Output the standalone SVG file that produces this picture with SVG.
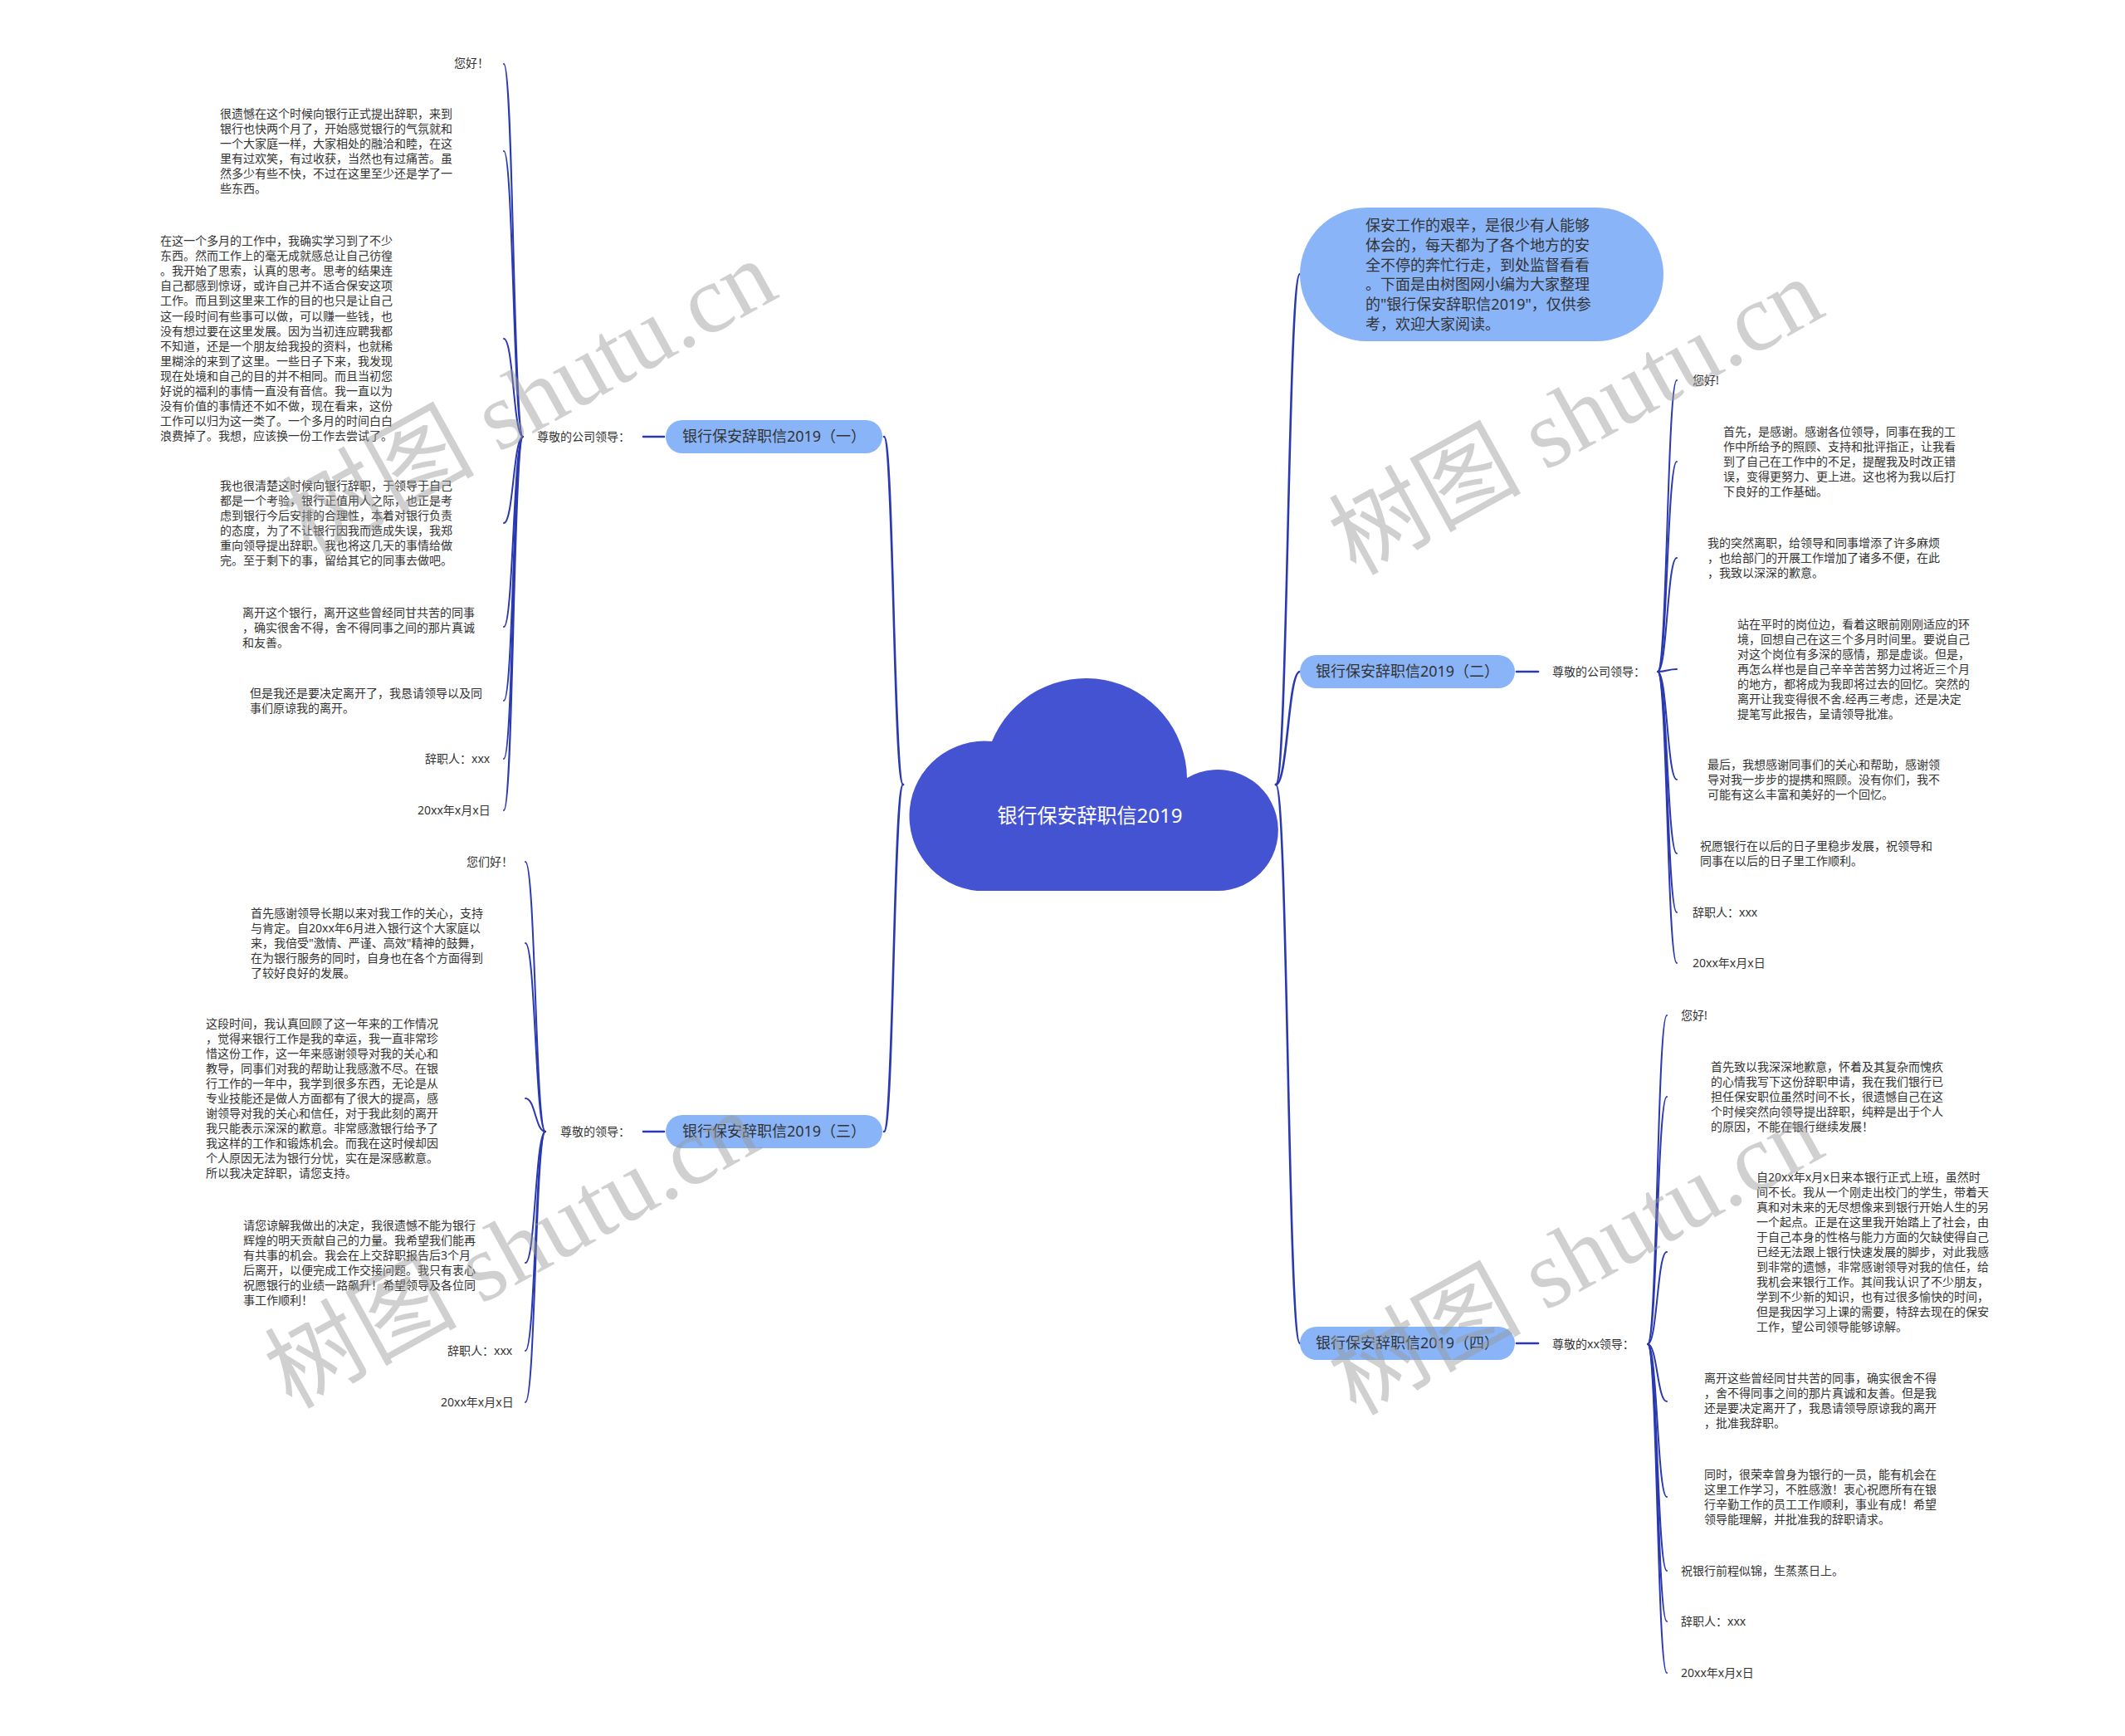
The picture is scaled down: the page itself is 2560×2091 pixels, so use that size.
<svg xmlns="http://www.w3.org/2000/svg" width="2560" height="2091" viewBox="0 0 2560 2091">
<style>
.t{font-family:'Noto Sans','Noto Sans CJK SC',sans-serif;font-size:14px;fill:#333}
.pill{fill:#8ab4f8}
.pt{font-family:'Noto Sans','Noto Sans CJK SC',sans-serif;font-size:18px;fill:#333}
.ln{fill:none;stroke:#2b39b0;stroke-width:2;stroke-linecap:round}
.tr{stroke-width:2.6}
.wm{font-family:'Liberation Serif','Noto Sans CJK SC',serif;font-size:116px;fill:#999;opacity:0.45}
</style>
<rect width="2560" height="2091" fill="#fff"/>

<g id="connectors">
  <!-- trunks from center -->
  <path class="ln tr" d="M1088,945 C1076.5,945 1076.5,526 1065,526"/>
  <path class="ln tr" d="M1088,945 C1076.5,945 1076.5,1363 1065,1363"/>
  <path class="ln tr" d="M1537,945 C1551.5,945 1551.5,330 1566,330"/>
  <path class="ln tr" d="M1537,945 C1551.5,945 1551.5,809 1566,809"/>
  <path class="ln tr" d="M1537,945 C1551.5,945 1551.5,1618 1566,1618"/>
  <!-- pill to label -->
  <path class="ln tr" d="M775,526 H800"/>
  <path class="ln tr" d="M775,1363 H800"/>
  <path class="ln tr" d="M1827,809 H1853"/>
  <path class="ln tr" d="M1827,1618 H1853"/>
  <!-- branch 1 bracket -->
  <path class="ln" d="M630,526 C618.5,526 618.5,77 607,77"/>
  <path class="ln" d="M630,526 C618.5,526 618.5,182 607,182"/>
  <path class="ln" d="M630,526 C618.5,526 618.5,408 607,408"/>
  <path class="ln" d="M630,526 C618.5,526 618.5,630 607,630"/>
  <path class="ln" d="M630,526 C618.5,526 618.5,755 607,755"/>
  <path class="ln" d="M630,526 C618.5,526 618.5,844 607,844"/>
  <path class="ln" d="M630,526 C618.5,526 618.5,914 607,914"/>
  <path class="ln" d="M630,526 C618.5,526 618.5,976 607,976"/>
  <!-- branch 3 bracket -->
  <path class="ln" d="M657,1363 C645,1363 645,1038 633,1038"/>
  <path class="ln" d="M657,1363 C645,1363 645,1136 633,1136"/>
  <path class="ln" d="M657,1363 C645,1363 645,1323 633,1323"/>
  <path class="ln" d="M657,1363 C645,1363 645,1521 633,1521"/>
  <path class="ln" d="M657,1363 C645,1363 645,1627 633,1627"/>
  <path class="ln" d="M657,1363 C645,1363 645,1689 633,1689"/>
  <!-- branch 2 bracket -->
  <path class="ln" d="M1997,809 C2008.5,809 2008.5,458 2020,458"/>
  <path class="ln" d="M1997,809 C2008.5,809 2008.5,556 2020,556"/>
  <path class="ln" d="M1997,809 C2008.5,809 2008.5,672 2020,672"/>
  <path class="ln" d="M1997,809 C2008.5,809 2008.5,806 2020,806"/>
  <path class="ln" d="M1997,809 C2008.5,809 2008.5,939 2020,939"/>
  <path class="ln" d="M1997,809 C2008.5,809 2008.5,1028 2020,1028"/>
  <path class="ln" d="M1997,809 C2008.5,809 2008.5,1099 2020,1099"/>
  <path class="ln" d="M1997,809 C2008.5,809 2008.5,1160 2020,1160"/>
  <!-- branch 4 bracket -->
  <path class="ln" d="M1985,1619 C1996.5,1619 1996.5,1223 2008,1223"/>
  <path class="ln" d="M1985,1619 C1996.5,1619 1996.5,1321 2008,1321"/>
  <path class="ln" d="M1985,1619 C1996.5,1619 1996.5,1508 2008,1508"/>
  <path class="ln" d="M1985,1619 C1996.5,1619 1996.5,1688 2008,1688"/>
  <path class="ln" d="M1985,1619 C1996.5,1619 1996.5,1803 2008,1803"/>
  <path class="ln" d="M1985,1619 C1996.5,1619 1996.5,1892 2008,1892"/>
  <path class="ln" d="M1985,1619 C1996.5,1619 1996.5,1953 2008,1953"/>
  <path class="ln" d="M1985,1619 C1996.5,1619 1996.5,2015 2008,2015"/>
</g>

<g id="root">
  <path d="M1177,1073 A90,90 0 1 1 1195,893 A122,122 0 0 1 1430,937 A73,73 0 1 1 1465,1073 Z" fill="#4453d2"/>
  <text x="1313" y="991" text-anchor="middle" style="font-family:'Noto Sans','Noto Sans CJK SC',sans-serif;font-size:24px;fill:#fff">银行保安辞职信2019</text>
</g>

<g id="intro">
  <rect class="pill" x="1566" y="250" width="438" height="161" rx="80.5"/>
  <text class="pt">
    <tspan x="1645" y="278">保安工作的艰辛，是很少有人能够</tspan>
    <tspan x="1645" y="301.8">体会的，每天都为了各个地方的安</tspan>
    <tspan x="1645" y="325.6">全不停的奔忙行走，到处监督看看</tspan>
    <tspan x="1645" y="349.4">。下面是由树图网小编为大家整理</tspan>
    <tspan x="1645" y="373.2">的"银行保安辞职信2019"，仅供参</tspan>
    <tspan x="1645" y="397">考，欢迎大家阅读。</tspan>
  </text>
</g>

<!-- Branch 1 -->
<g id="b1">
  <rect class="pill" x="802" y="506" width="261" height="40" rx="20"/>
  <text class="pt" x="932.5" y="532" text-anchor="middle">银行保安辞职信2019（一）</text>
</g>
<g id="b1-label"><text class="t" x="647" y="531">尊敬的公司领导：</text></g>
<g id="b1-c1"><text class="t" x="547" y="81">您好！</text></g>
<g id="b1-c2"><text class="t">
  <tspan x="265" y="142">很遗憾在这个时候向银行正式提出辞职，来到</tspan>
  <tspan x="265" y="160">银行也快两个月了，开始感觉银行的气氛就和</tspan>
  <tspan x="265" y="178">一个大家庭一样，大家相处的融洽和睦，在这</tspan>
  <tspan x="265" y="196">里有过欢笑，有过收获，当然也有过痛苦。虽</tspan>
  <tspan x="265" y="214">然多少有些不快，不过在这里至少还是学了一</tspan>
  <tspan x="265" y="232">些东西。</tspan>
</text></g>
<g id="b1-c3"><text class="t">
  <tspan x="193" y="295">在这一个多月的工作中，我确实学习到了不少</tspan>
  <tspan x="193" y="313.1">东西。然而工作上的毫无成就感总让自己彷徨</tspan>
  <tspan x="193" y="331.2">。我开始了思索，认真的思考。思考的结果连</tspan>
  <tspan x="193" y="349.3">自己都感到惊讶，或许自己并不适合保安这项</tspan>
  <tspan x="193" y="367.4">工作。而且到这里来工作的目的也只是让自己</tspan>
  <tspan x="193" y="385.5">这一段时间有些事可以做，可以赚一些钱，也</tspan>
  <tspan x="193" y="403.6">没有想过要在这里发展。因为当初连应聘我都</tspan>
  <tspan x="193" y="421.7">不知道，还是一个朋友给我投的资料，也就稀</tspan>
  <tspan x="193" y="439.8">里糊涂的来到了这里。一些日子下来，我发现</tspan>
  <tspan x="193" y="457.9">现在处境和自己的目的并不相同。而且当初您</tspan>
  <tspan x="193" y="476">好说的福利的事情一直没有音信。我一直以为</tspan>
  <tspan x="193" y="494.1">没有价值的事情还不如不做，现在看来，这份</tspan>
  <tspan x="193" y="512.2">工作可以归为这一类了。一个多月的时间白白</tspan>
  <tspan x="193" y="530.3">浪费掉了。我想，应该换一份工作去尝试了。</tspan>
</text></g>
<g id="b1-c4"><text class="t">
  <tspan x="265" y="590">我也很清楚这时候向银行辞职，于领导于自己</tspan>
  <tspan x="265" y="608">都是一个考验，银行正值用人之际，也正是考</tspan>
  <tspan x="265" y="626">虑到银行今后安排的合理性，本着对银行负责</tspan>
  <tspan x="265" y="644">的态度，为了不让银行因我而造成失误，我郑</tspan>
  <tspan x="265" y="662">重向领导提出辞职。我也将这几天的事情给做</tspan>
  <tspan x="265" y="680">完。至于剩下的事，留给其它的同事去做吧。</tspan>
</text></g>
<g id="b1-c5"><text class="t">
  <tspan x="292" y="743">离开这个银行，离开这些曾经同甘共苦的同事</tspan>
  <tspan x="292" y="761">，确实很舍不得，舍不得同事之间的那片真诚</tspan>
  <tspan x="292" y="779">和友善。</tspan>
</text></g>
<g id="b1-c6"><text class="t">
  <tspan x="301" y="840">但是我还是要决定离开了，我恳请领导以及同</tspan>
  <tspan x="301" y="858">事们原谅我的离开。</tspan>
</text></g>
<g id="b1-c7"><text class="t" x="512" y="919">辞职人：xxx</text></g>
<g id="b1-c8"><text class="t" x="503" y="981">20xx年x月x日</text></g>

<!-- Branch 3 -->
<g id="b3">
  <rect class="pill" x="802" y="1343" width="261" height="40" rx="20"/>
  <text class="pt" x="932.5" y="1369" text-anchor="middle">银行保安辞职信2019（三）</text>
</g>
<g id="b3-label"><text class="t" x="675" y="1368">尊敬的领导：</text></g>
<g id="b3-c1"><text class="t" x="562" y="1043">您们好！</text></g>
<g id="b3-c2"><text class="t">
  <tspan x="302" y="1105">首先感谢领导长期以来对我工作的关心，支持</tspan>
  <tspan x="302" y="1123">与肯定。自20xx年6月进入银行这个大家庭以</tspan>
  <tspan x="302" y="1141">来，我倍受"激情、严谨、高效"精神的鼓舞，</tspan>
  <tspan x="302" y="1159">在为银行服务的同时，自身也在各个方面得到</tspan>
  <tspan x="302" y="1177">了较好良好的发展。</tspan>
</text></g>
<g id="b3-c3"><text class="t">
  <tspan x="248" y="1238">这段时间，我认真回顾了这一年来的工作情况</tspan>
  <tspan x="248" y="1256">，觉得来银行工作是我的幸运，我一直非常珍</tspan>
  <tspan x="248" y="1274">惜这份工作，这一年来感谢领导对我的关心和</tspan>
  <tspan x="248" y="1292">教导，同事们对我的帮助让我感激不尽。在银</tspan>
  <tspan x="248" y="1310">行工作的一年中，我学到很多东西，无论是从</tspan>
  <tspan x="248" y="1328">专业技能还是做人方面都有了很大的提高，感</tspan>
  <tspan x="248" y="1346">谢领导对我的关心和信任，对于我此刻的离开</tspan>
  <tspan x="248" y="1364">我只能表示深深的歉意。非常感激银行给予了</tspan>
  <tspan x="248" y="1382">我这样的工作和锻炼机会。而我在这时候却因</tspan>
  <tspan x="248" y="1400">个人原因无法为银行分忧，实在是深感歉意。</tspan>
  <tspan x="248" y="1418">所以我决定辞职，请您支持。</tspan>
</text></g>
<g id="b3-c4"><text class="t">
  <tspan x="293" y="1481">请您谅解我做出的决定，我很遗憾不能为银行</tspan>
  <tspan x="293" y="1499">辉煌的明天贡献自己的力量。我希望我们能再</tspan>
  <tspan x="293" y="1517">有共事的机会。我会在上交辞职报告后3个月</tspan>
  <tspan x="293" y="1535">后离开，以便完成工作交接问题。我只有衷心</tspan>
  <tspan x="293" y="1553">祝愿银行的业绩一路飙升！希望领导及各位同</tspan>
  <tspan x="293" y="1571">事工作顺利！</tspan>
</text></g>
<g id="b3-c5"><text class="t" x="539" y="1632">辞职人：xxx</text></g>
<g id="b3-c6"><text class="t" x="531" y="1694">20xx年x月x日</text></g>

<!-- Branch 2 -->
<g id="b2">
  <rect class="pill" x="1566" y="789" width="259" height="40" rx="20"/>
  <text class="pt" x="1695.5" y="815" text-anchor="middle">银行保安辞职信2019（二）</text>
</g>
<g id="b2-label"><text class="t" x="1870" y="814">尊敬的公司领导：</text></g>
<g id="b2-c1"><text class="t" x="2039" y="463">您好!</text></g>
<g id="b2-c2"><text class="t">
  <tspan x="2076" y="525">首先，是感谢。感谢各位领导，同事在我的工</tspan>
  <tspan x="2076" y="543">作中所给予的照顾、支持和批评指正，让我看</tspan>
  <tspan x="2076" y="561">到了自己在工作中的不足，提醒我及时改正错</tspan>
  <tspan x="2076" y="579">误，变得更努力、更上进。这也将为我以后打</tspan>
  <tspan x="2076" y="597">下良好的工作基础。</tspan>
</text></g>
<g id="b2-c3"><text class="t">
  <tspan x="2057" y="659">我的突然离职，给领导和同事增添了许多麻烦</tspan>
  <tspan x="2057" y="677">，也给部门的开展工作增加了诸多不便，在此</tspan>
  <tspan x="2057" y="695">，我致以深深的歉意。</tspan>
</text></g>
<g id="b2-c4"><text class="t">
  <tspan x="2093" y="757">站在平时的岗位边，看着这眼前刚刚适应的环</tspan>
  <tspan x="2093" y="775">境，回想自己在这三个多月时间里。要说自己</tspan>
  <tspan x="2093" y="793">对这个岗位有多深的感情，那是虚谈。但是，</tspan>
  <tspan x="2093" y="811">再怎么样也是自己辛辛苦苦努力过将近三个月</tspan>
  <tspan x="2093" y="829">的地方，都将成为我即将过去的回忆。突然的</tspan>
  <tspan x="2093" y="847">离开让我变得很不舍.经再三考虑，还是决定</tspan>
  <tspan x="2093" y="865">提笔写此报告，呈请领导批准。</tspan>
</text></g>
<g id="b2-c5"><text class="t">
  <tspan x="2057" y="926">最后，我想感谢同事们的关心和帮助，感谢领</tspan>
  <tspan x="2057" y="944">导对我一步步的提携和照顾。没有你们，我不</tspan>
  <tspan x="2057" y="962">可能有这么丰富和美好的一个回忆。</tspan>
</text></g>
<g id="b2-c6"><text class="t">
  <tspan x="2048" y="1024">祝愿银行在以后的日子里稳步发展，祝领导和</tspan>
  <tspan x="2048" y="1042">同事在以后的日子里工作顺利。</tspan>
</text></g>
<g id="b2-c7"><text class="t" x="2039" y="1104">辞职人：xxx</text></g>
<g id="b2-c8"><text class="t" x="2039" y="1165">20xx年x月x日</text></g>

<!-- Branch 4 -->
<g id="b4">
  <rect class="pill" x="1566" y="1598" width="259" height="40" rx="20"/>
  <text class="pt" x="1695.5" y="1624" text-anchor="middle">银行保安辞职信2019（四）</text>
</g>
<g id="b4-label"><text class="t" x="1870" y="1624">尊敬的xx领导：</text></g>
<g id="b4-c1"><text class="t" x="2025" y="1228">您好!</text></g>
<g id="b4-c2"><text class="t">
  <tspan x="2061" y="1290">首先致以我深深地歉意，怀着及其复杂而愧疚</tspan>
  <tspan x="2061" y="1308">的心情我写下这份辞职申请，我在我们银行已</tspan>
  <tspan x="2061" y="1326">担任保安职位虽然时间不长，很遗憾自己在这</tspan>
  <tspan x="2061" y="1344">个时候突然向领导提出辞职，纯粹是出于个人</tspan>
  <tspan x="2061" y="1362">的原因，不能在银行继续发展！</tspan>
</text></g>
<g id="b4-c3"><text class="t">
  <tspan x="2116" y="1423">自20xx年x月x日来本银行正式上班，虽然时</tspan>
  <tspan x="2116" y="1441">间不长。我从一个刚走出校门的学生，带着天</tspan>
  <tspan x="2116" y="1459">真和对未来的无尽想像来到银行开始人生的另</tspan>
  <tspan x="2116" y="1477">一个起点。正是在这里我开始踏上了社会，由</tspan>
  <tspan x="2116" y="1495">于自己本身的性格与能力方面的欠缺使得自己</tspan>
  <tspan x="2116" y="1513">已经无法跟上银行快速发展的脚步，对此我感</tspan>
  <tspan x="2116" y="1531">到非常的遗憾，非常感谢领导对我的信任，给</tspan>
  <tspan x="2116" y="1549">我机会来银行工作。其间我认识了不少朋友，</tspan>
  <tspan x="2116" y="1567">学到不少新的知识，也有过很多愉快的时间，</tspan>
  <tspan x="2116" y="1585">但是我因学习上课的需要，特辞去现在的保安</tspan>
  <tspan x="2116" y="1603">工作，望公司领导能够谅解。</tspan>
</text></g>
<g id="b4-c4"><text class="t">
  <tspan x="2053" y="1665">离开这些曾经同甘共苦的同事，确实很舍不得</tspan>
  <tspan x="2053" y="1683">，舍不得同事之间的那片真诚和友善。但是我</tspan>
  <tspan x="2053" y="1701">还是要决定离开了，我恳请领导原谅我的离开</tspan>
  <tspan x="2053" y="1719">，批准我辞职。</tspan>
</text></g>
<g id="b4-c5"><text class="t">
  <tspan x="2053" y="1781">同时，很荣幸曾身为银行的一员，能有机会在</tspan>
  <tspan x="2053" y="1799">这里工作学习，不胜感激！衷心祝愿所有在银</tspan>
  <tspan x="2053" y="1817">行辛勤工作的员工工作顺利，事业有成！希望</tspan>
  <tspan x="2053" y="1835">领导能理解，并批准我的辞职请求。</tspan>
</text></g>
<g id="b4-c6"><text class="t" x="2025" y="1897">祝银行前程似锦，生蒸蒸日上。</text></g>
<g id="b4-c7"><text class="t" x="2025" y="1958">辞职人：xxx</text></g>
<g id="b4-c8"><text class="t" x="2025" y="2020">20xx年x月x日</text></g>

<g id="watermarks">
  <text class="wm" x="372" y="672" transform="rotate(-29 372 672)">树图 shutu.cn</text>
  <text class="wm" x="1633" y="694" transform="rotate(-29 1633 694)">树图 shutu.cn</text>
  <text class="wm" x="351" y="1698" transform="rotate(-29 351 1698)">树图 shutu.cn</text>
  <text class="wm" x="1633" y="1706" transform="rotate(-29 1633 1706)">树图 shutu.cn</text>
</g>
</svg>
